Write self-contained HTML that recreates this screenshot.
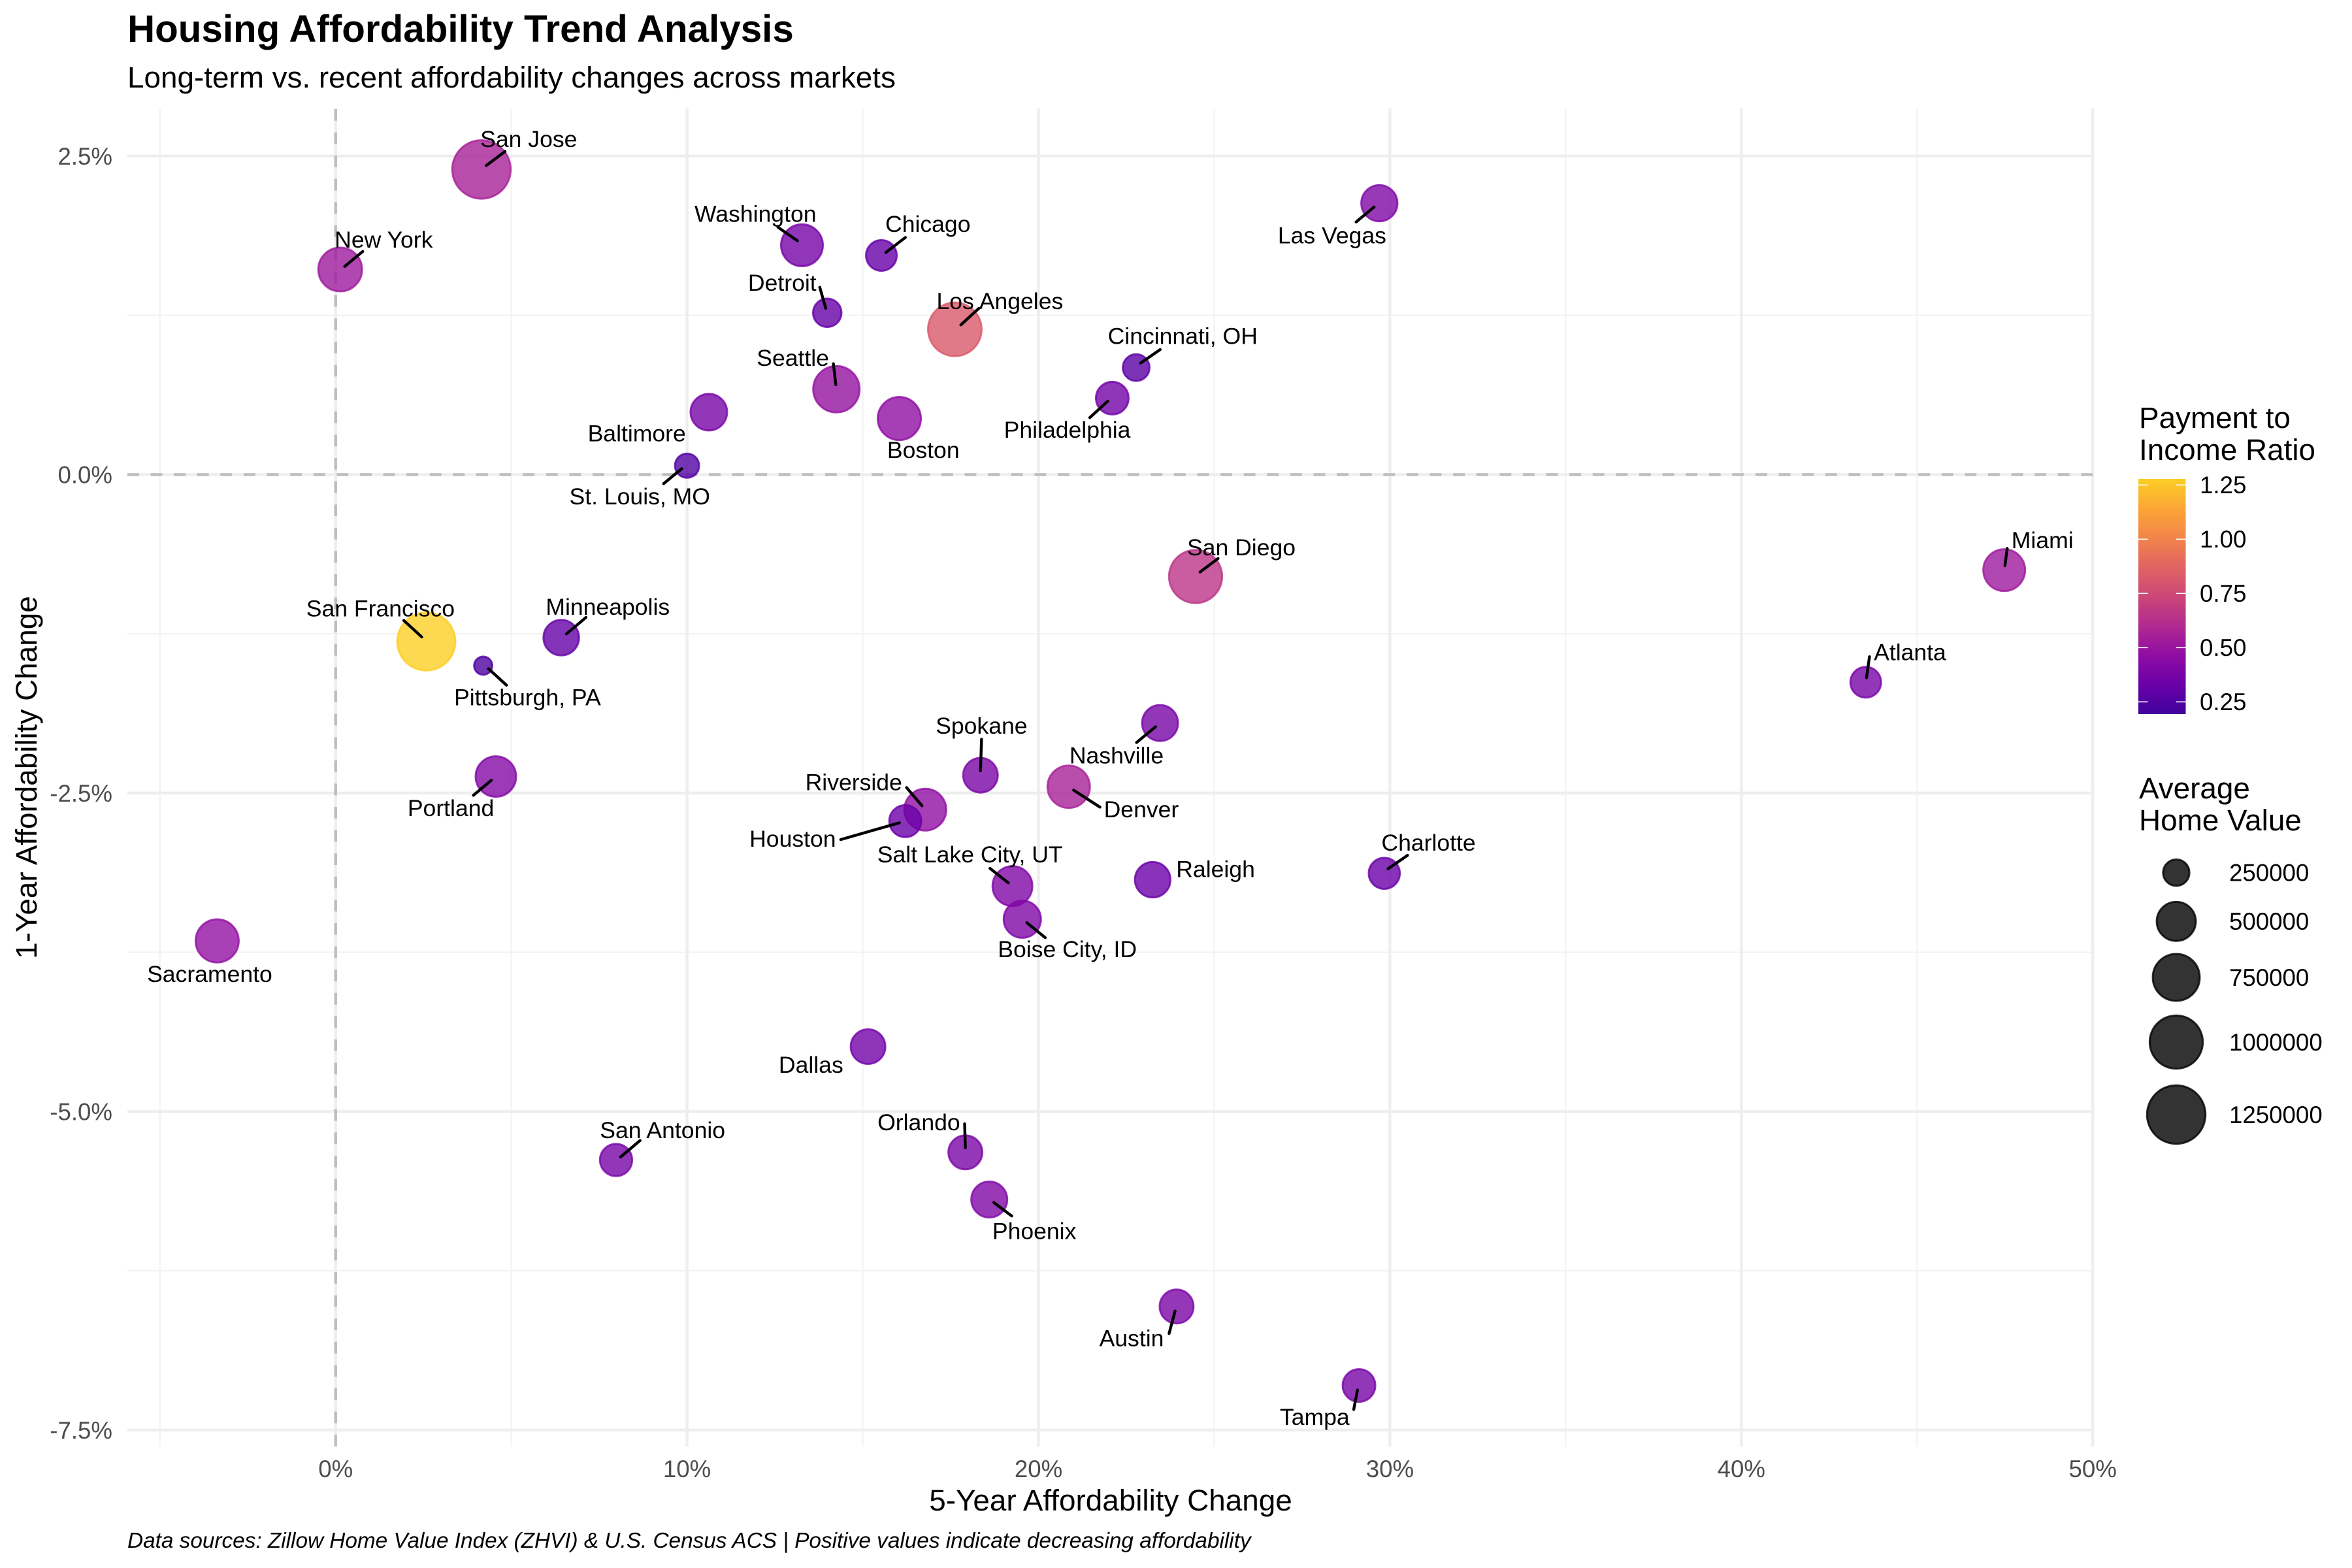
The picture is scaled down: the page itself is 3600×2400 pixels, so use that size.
<!DOCTYPE html>
<html lang="en">
<head>
<meta charset="utf-8">
<title>Housing Affordability Trend Analysis</title>
<style>
  html, body { margin: 0; padding: 0; background: #ffffff; }
  svg { display: block; font-family: "Liberation Sans", Arial, sans-serif; }
</style>
</head>
<body>
<svg id="chart" xmlns="http://www.w3.org/2000/svg" width="3600" height="2400" viewBox="0 0 3600 2400">
  <defs>
    <linearGradient id="plasma-gradient" x1="0" y1="1" x2="0" y2="0"></linearGradient>
  </defs>
  <rect x="0" y="0" width="3600" height="2400" fill="#ffffff"/>

  <text x="195" y="64" font-size="58.33" font-weight="700" fill="#000000">Housing Affordability Trend Analysis</text>
  <text x="195" y="134" font-size="45.83" fill="#000000">Long-term vs. recent affordability changes across markets</text>

  <g id="grid"></g>
  <g id="reference-lines"></g>
  <g id="x-ticks"></g>
  <g id="y-ticks"></g>
  <g id="points"></g>
  <g id="segments"></g>
  <g id="labels"></g>

  <text x="1700" y="2312" font-size="45.83" text-anchor="middle" fill="#000000">5-Year Affordability Change</text>
  <text transform="translate(56 1190) rotate(-90)" font-size="45.83" text-anchor="middle" fill="#000000">1-Year Affordability Change</text>
  <text x="195" y="2369" font-size="33.33" font-style="italic" fill="#000000">Data sources: Zillow Home Value Index (ZHVI) &amp; U.S. Census ACS | Positive values indicate decreasing affordability</text>

  <g>
    <text x="3274" y="655" font-size="45.83" fill="#000000">Payment to</text>
    <text x="3274" y="704" font-size="45.83" fill="#000000">Income Ratio</text>
    <rect x="3273" y="733" width="72.5" height="360" fill="url(#plasma-gradient)"/>
    <g id="color-legend-ticks"></g>
  </g>

  <g>
    <text x="3274" y="1222" font-size="45.83" fill="#000000">Average</text>
    <text x="3274" y="1271" font-size="45.83" fill="#000000">Home Value</text>
    <g id="size-legend-rows"></g>
  </g>
</svg>

<script>
// ---- Chart data ----
const cities = ["San Jose","New York","Las Vegas","Washington","Chicago","Detroit","Los Angeles","Cincinnati, OH","Philadelphia","Seattle","Boston","Baltimore","St. Louis, MO","San Diego","Miami","Atlanta","San Francisco","Minneapolis","Pittsburgh, PA","Nashville","Spokane","Denver","Portland","Riverside","Houston","Salt Lake City, UT","Raleigh","Charlotte","Boise City, ID","Sacramento","Dallas","San Antonio","Orlando","Phoenix","Austin","Tampa"];
const fiveYearChange = [4.15,0.13,29.70,13.27,15.53,13.99,17.62,22.78,22.10,14.25,16.04,10.62,10.00,24.47,47.48,43.54,2.58,6.42,4.20,23.46,18.35,20.86,4.56,16.78,16.21,19.26,23.25,29.84,19.54,-3.37,15.15,7.98,17.92,18.60,23.93,29.12];
const oneYearChange = [2.395,1.61,2.13,1.80,1.72,1.27,1.14,0.84,0.60,0.67,0.44,0.49,0.07,-0.80,-0.75,-1.63,-1.31,-1.28,-1.50,-1.95,-2.36,-2.45,-2.37,-2.63,-2.72,-3.23,-3.18,-3.13,-3.49,-3.66,-4.49,-5.38,-5.32,-5.69,-6.53,-7.15];
const homeValue = [1250000,640000,425000,578000,313000,277000,1018000,255000,349000,729000,620000,435000,227000,1000000,578000,313000,1230000,410000,192000,420000,390000,597000,539000,578000,337000,520000,410000,320000,451000,618000,390000,340000,375000,420000,375000,349000];
const paymentRatio = [0.56,0.52,0.41,0.37,0.32,0.32,0.82,0.28,0.36,0.49,0.47,0.38,0.25,0.65,0.52,0.38,1.279,0.31,0.24,0.38,0.39,0.56,0.42,0.47,0.33,0.41,0.33,0.33,0.41,0.48,0.36,0.38,0.39,0.41,0.39,0.38];

const xMajorTicks = [0,10,20,30,40,50];
const xMinorTicks = [-5,5,15,25,35,45];
const xTickLabels = ["0%","10%","20%","30%","40%","50%"];
const yMajorTicks = [-7.5,-5,-2.5,0,2.5];
const yMinorTicks = [-6.25,-3.75,-1.25,1.25];
const yTickLabels = ["-7.5%","-5.0%","-2.5%","0.0%","2.5%"];
const colorLegendValues = [0.25,0.5,0.75,1.0,1.25];
const colorLegendLabels = ["0.25","0.50","0.75","1.00","1.25"];
const sizeLegendValues = [250000,500000,750000,1000000,1250000];
const sizeLegendLabels = ["250000","500000","750000","1000000","1250000"];

// ---- Label placement relative to each point: [textDx,textDy, lineStartDx,lineStartDy, lineEndDx,lineEndDy]
const labelLayout = {
  "San Jose":[31.5,-19.3,3.2,-2.6,15.7,-12],
  "New York":[29,-19,3,-2,15,-12],
  "Las Vegas":[-31.5,22.5,-3.5,2.5,-15.5,12.5],
  "Washington":[-31,-20,-3,-3,-16,-12],
  "Chicago":[31,-20,3,-2,16,-12],
  "Detroit":[-30,-19,-1,-3,-5,-17],
  "Los Angeles":[30,-18,4,-3,16,-14],
  "Cincinnati, OH":[31,-20,3,-3,16,-12],
  "Philadelphia":[-30,22,-3,2,-15,13],
  "Seattle":[-29,-20,-0.4,-3,-2,-17],
  "Boston":[16,22],
  "Baltimore":[-48,15],
  "St. Louis, MO":[-31.5,21.5,-3.5,2,-15.6,12],
  "San Diego":[30.5,-18.5,3,-3,15,-12],
  "Miami":[25.5,-19,0.5,-3,2,-14.5],
  "Atlanta":[29.5,-19,0.5,-3,2.5,-17],
  "San Francisco":[-30.5,-21,-3,-3,-15,-14],
  "Minneapolis":[31,-19.5,3.5,-2.5,16.5,-13.5],
  "Pittsburgh, PA":[29.5,22,3.5,2,15.5,13],
  "Nashville":[-29,22.5,-3,2.5,-15.7,13],
  "Spokane":[0.7,-32,0,-3,0.7,-24],
  "Denver":[48.4,16,3.3,2.3,20.8,13.6],
  "Portland":[-30,22,-3,2.5,-15,12.5],
  "Riverside":[-47.7,-17.3,-2.2,-2.6,-12.5,-14.7],
  "Houston":[-75,12.8,-3.9,1.1,-43,12.3],
  "Salt Lake City, UT":[-28.3,-20.2,-2.8,-2.2,-15,-11.8],
  "Raleigh":[41.9,-6.2],
  "Charlotte":[29.5,-19.5,2.5,-3,15.5,-12],
  "Boise City, ID":[30,21,3,2.3,15.3,12.3],
  "Sacramento":[-5,23],
  "Dallas":[-38,13],
  "San Antonio":[31,-19,3,-2,16,-13],
  "Orlando":[-31,-19,0,-3,-0.5,-19],
  "Phoenix":[30,22,3,2,15,11],
  "Austin":[-30,22,-1,3,-5,18],
  "Tampa":[-29.5,22,-1,3,-3.5,16]
};
const layoutUnit = 2.297;

// Plasma colour ramp anchors
const plasmaAnchors = ["#0d0887","#41049d","#6a00a8","#8f0da4","#b12a90","#cc4778","#e16462","#f2844b","#fca636","#fcce25","#f0f921"];
const colorDomain = [0.194,1.279];
const colorRange = [0.1,0.9];
const sizeDomain = [190000,1300000];
const sizeRange = [28,94];
const sizeLegendRowCenters = [1335.7,1410.3,1496,1595,1706];

// ---- Panel & scales ----
const panel = { left: 195, right: 3205, top: 166, bottom: 2214 };
function sx(v) { return 513.7 + 53.79 * v; }
function sy(v) { return 726.4 - 195 * v; }
function hexToRgb(h) { return [parseInt(h.slice(1,3),16), parseInt(h.slice(3,5),16), parseInt(h.slice(5,7),16)]; }
function plasma(t) {
  const p = Math.min(0.9999, Math.max(0, t)) * (plasmaAnchors.length - 1);
  const i = Math.floor(p), f = p - i;
  const a = hexToRgb(plasmaAnchors[i]), b = hexToRgb(plasmaAnchors[i + 1]);
  return "rgb(" + a.map(function (c, k) { return Math.round(c + (b[k] - c) * f); }).join(",") + ")";
}
function colorScale(r) {
  const u = (r - colorDomain[0]) / (colorDomain[1] - colorDomain[0]);
  return plasma(colorRange[0] + (colorRange[1] - colorRange[0]) * u);
}
function sizeScale(v) {
  const u = Math.max(0, (v - sizeDomain[0]) / (sizeDomain[1] - sizeDomain[0]));
  return sizeRange[0] + (sizeRange[1] - sizeRange[0]) * Math.sqrt(u);
}
function colorLegendY(r) { return 742.3 + (1.25 - r) * 332; }

const NS = "http://www.w3.org/2000/svg";
function make(tag, parentId, attrs, text) {
  const el = document.createElementNS(NS, tag);
  Object.keys(attrs).forEach(function (k) { el.setAttribute(k, attrs[k]); });
  if (text !== undefined) el.textContent = text;
  document.getElementById(parentId).appendChild(el);
  return el;
}

// Gradient for the colour bar
for (let i = 0; i <= 40; i++) {
  const stop = make("stop", "plasma-gradient", { offset: (i / 40), "stop-color": plasma(colorRange[0] + (colorRange[1] - colorRange[0]) * i / 40) });
  
  
}

// Grid
xMinorTicks.forEach(function (v) {
  const el = make("line", "grid", { x1: sx(v), x2: sx(v), y1: panel.top, y2: panel.bottom, stroke: "#f3f3f3", "stroke-width": 2.2 });
  
  
});
yMinorTicks.forEach(function (v) {
  const el = make("line", "grid", { x1: panel.left, x2: panel.right, y1: sy(v), y2: sy(v), stroke: "#f3f3f3", "stroke-width": 2.2 });
  
  
});
xMajorTicks.forEach(function (v) {
  const el = make("line", "grid", { x1: sx(v), x2: sx(v), y1: panel.top, y2: panel.bottom, stroke: "#eeeeee", "stroke-width": 4.4 });
  
  
});
yMajorTicks.forEach(function (v) {
  const el = make("line", "grid", { x1: panel.left, x2: panel.right, y1: sy(v), y2: sy(v), stroke: "#eeeeee", "stroke-width": 4.4 });
  
  
});

// Zero reference lines
const vRef = make("line", "reference-lines", { x1: sx(0), x2: sx(0), y1: panel.bottom, y2: panel.top, stroke: "#bdbdbd", "stroke-width": 4.4, "stroke-dasharray": "17.8 17.8" });


const hRef = make("line", "reference-lines", { x1: panel.left, x2: panel.right, y1: sy(0), y2: sy(0), stroke: "#bdbdbd", "stroke-width": 4.4, "stroke-dasharray": "17.8 17.8" });



// Tick labels
xMajorTicks.forEach(function (v, i) {
  const el = make("text", "x-ticks", { x: sx(v), y: 2261, "text-anchor": "middle", "font-size": 36.67, fill: "#4d4d4d" }, xTickLabels[i]);
  
  
});
yMajorTicks.forEach(function (v, i) {
  const el = make("text", "y-ticks", { x: 172, y: sy(v) + 13, "text-anchor": "end", "font-size": 36.67, fill: "#4d4d4d" }, yTickLabels[i]);
  
  
});

// Points, leader lines, labels
cities.forEach(function (city, i) {
  const cx = sx(fiveYearChange[i]);
  const cy = sy(oneYearChange[i]);
  const colour = colorScale(paymentRatio[i]);
  const pt = make("circle", "points", { cx: cx, cy: cy, r: sizeScale(homeValue[i]) / 2 - 1.5, fill: colour, "fill-opacity": 0.8, stroke: colour, "stroke-opacity": 0.8, "stroke-width": 2.95 });
  
  

  const L = labelLayout[city];
  if (L.length > 2) {
    const seg = make("line", "segments", { x1: cx + L[2] * layoutUnit, y1: cy + L[3] * layoutUnit, x2: cx + L[4] * layoutUnit, y2: cy + L[5] * layoutUnit, stroke: "#000000", "stroke-width": 4.4, "stroke-linecap": "round" });
    
    
  }
  const lab = make("text", "labels", { x: cx + L[0] * layoutUnit, y: cy + L[1] * layoutUnit + 10, "text-anchor": "middle", "font-size": 35.57, fill: "#000000" }, city);
  
  
});

// Colour legend ticks and labels
colorLegendValues.forEach(function (v, i) {
  const y = colorLegendY(v);
  const t1 = make("line", "color-legend-ticks", { x1: 3273, x2: 3287.5, y1: y, y2: y, stroke: "#ffffff", "stroke-width": 1.6 });
  
  
  const t2 = make("line", "color-legend-ticks", { x1: 3331, x2: 3345.5, y1: y, y2: y, stroke: "#ffffff", "stroke-width": 1.6 });
  
  
  const lab = make("text", "color-legend-ticks", { x: 3367, y: y + 12.8, "font-size": 36.67, fill: "#000000" }, colorLegendLabels[i]);
  
  
});

// Size legend rows
sizeLegendValues.forEach(function (v, i) {
  const y = sizeLegendRowCenters[i];
  const c = make("circle", "size-legend-rows", { cx: 3331, cy: y, r: sizeScale(v) / 2 - 1.5, fill: "#000000", "fill-opacity": 0.8, stroke: "#000000", "stroke-opacity": 0.8, "stroke-width": 2.95 });
  
  
  const lab = make("text", "size-legend-rows", { x: 3412, y: y + 12.8, "font-size": 36.67, fill: "#000000" }, sizeLegendLabels[i]);
  
  
});
</script>
</body>
</html>
